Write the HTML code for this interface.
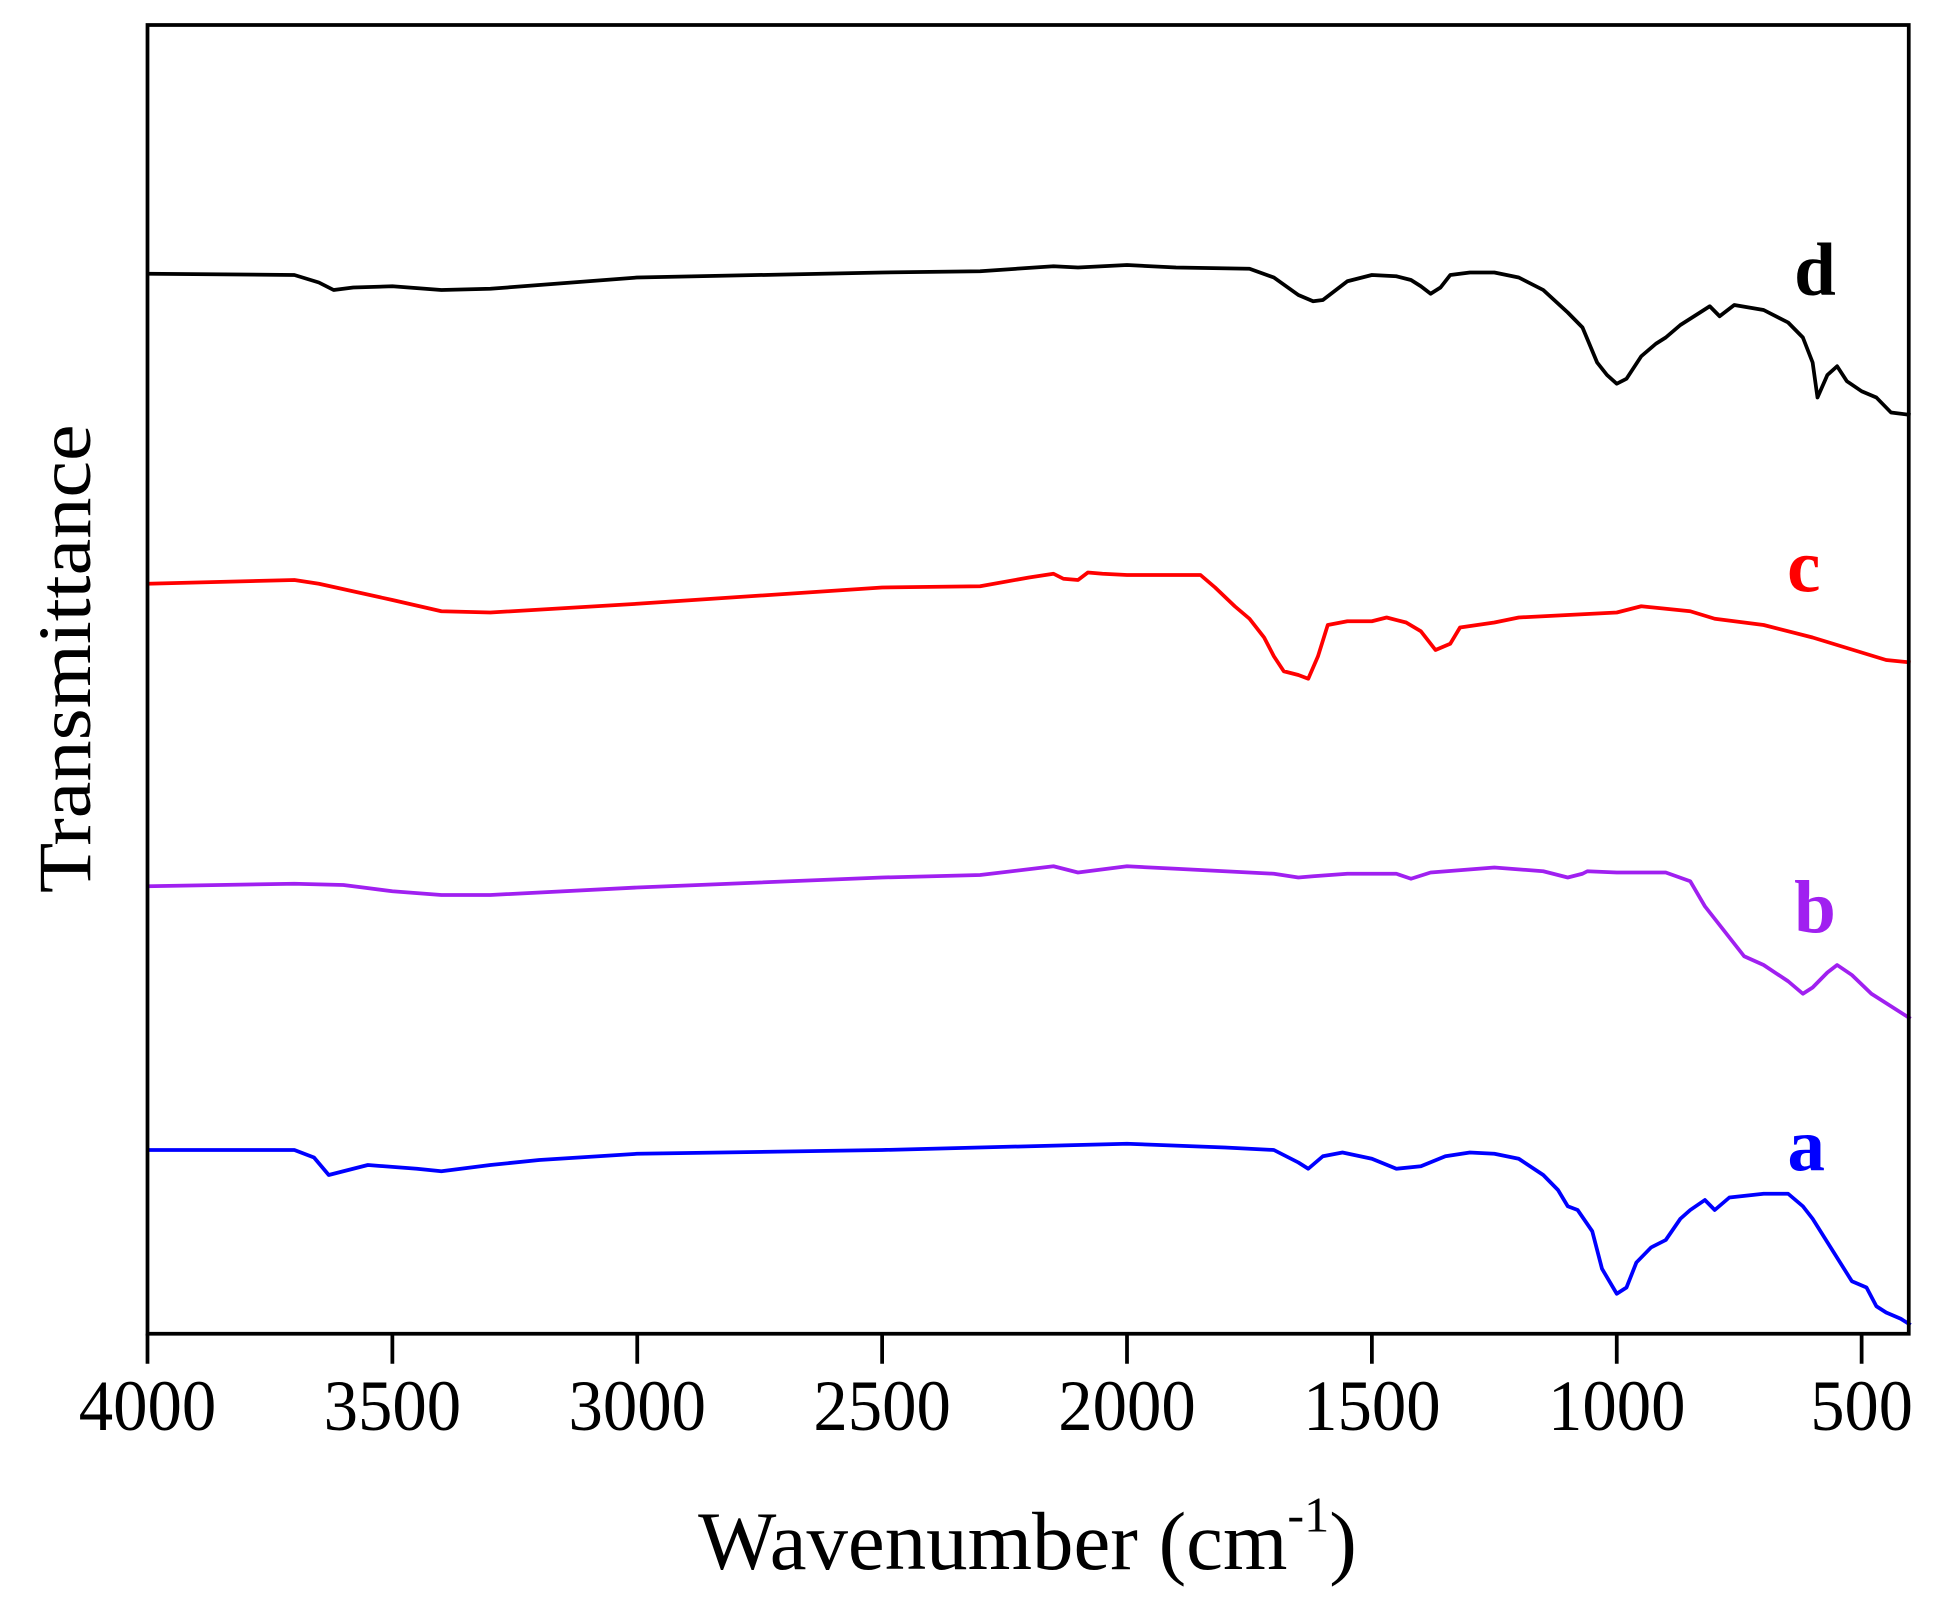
<!DOCTYPE html>
<html><head><meta charset="utf-8"><style>
html,body{margin:0;padding:0;background:#fff;}
svg{display:block;}
text{font-family:"Liberation Serif",serif;}
</style></head><body>
<svg id="chart" width="1960" height="1612" viewBox="0 0 1568 1289.6" xmlns="http://www.w3.org/2000/svg">
<rect width="1568" height="1289.6" fill="#fff"/>
<g id="series"></g>
<rect x="118" y="20" width="1409" height="1047" fill="none" stroke="#000" stroke-width="3"/>
<g id="axis"></g>
<text x="822" y="1255" text-anchor="middle" font-size="66" textLength="527" lengthAdjust="spacingAndGlyphs">Wavenumber (cm<tspan font-size="40" dy="-30">-1</tspan><tspan dy="30">)</tspan></text>
<text transform="translate(72,527) rotate(-90)" text-anchor="middle" font-size="60" textLength="375" lengthAdjust="spacingAndGlyphs">Transmittance</text>
</svg>
<script>
const ticks=[4000,3500,3000,2500,2000,1500,1000,500];
const seriesNames=['a','b','c','d'];
const seriesColors=['#0000ff','#a020f0','#ff0000','#000000'];
const wnD=[4000,3700,3650,3620,3580,3500,3400,3300,3200,3000,2500,2300,2150,2100,2000,1900,1750,1700,1650,1620,1600,1550,1500,1450,1420,1400,1380,1360,1340,1300,1250,1200,1150,1100,1070,1040,1020,1000,980,950,920,900,870,830,810,790,760,700,650,620,600,590,570,550,530,500,470,440,400];
const valD=[848,847,841,835,837,838,835,836,839,845,849,850,854,853,855,853,852,845,831,826,827,842,847,846,843,838,832,837,847,849,849,845,835,817,805,777,767,760,764,782,792,797,807,817,822,814,823,819,809,797,777,749,767,774,762,754,749,737,735];
const wnC=[4000,3700,3650,3500,3400,3300,3000,2500,2300,2200,2150,2130,2100,2080,2050,2000,1850,1820,1780,1750,1720,1700,1680,1650,1630,1610,1590,1550,1500,1470,1430,1400,1370,1340,1320,1250,1200,1100,1000,950,900,850,800,700,600,500,450,400];
const valC=[600,603,600,587,578,577,584,597,598,605,608,604,603,609,608,607,607,597,582,572,557,542,530,527,524,542,567,570,570,573,569,562,547,552,565,569,573,575,577,582,580,578,572,567,557,545,539,537];
const wnB=[4000,3700,3600,3500,3400,3300,3000,2500,2300,2150,2100,2000,1900,1700,1650,1620,1550,1450,1420,1380,1250,1150,1100,1070,1060,1000,900,850,820,780,740,700,650,620,600,570,550,520,480,400];
const valB=[358,360,359,354,351,351,357,365,367,374,369,374,372,368,365,366,368,368,364,369,373,370,365,368,370,369,369,362,342,322,302,295,282,272,277,289,295,287,272,252];
const wnA=[4000,3700,3660,3630,3600,3550,3450,3400,3300,3200,3000,2500,2000,1800,1700,1650,1630,1600,1560,1500,1450,1400,1350,1300,1250,1200,1150,1120,1100,1080,1050,1030,1000,980,960,930,900,870,850,820,800,770,700,650,620,600,560,520,490,470,450,420,400];
const valA=[147,147,141,127,130,135,132,130,135,139,144,147,152,149,147,137,132,142,145,140,132,134,142,145,144,140,127,115,102,99,82,52,32,37,57,69,75,92,99,107,99,109,112,112,102,92,67,42,37,22,17,12,7];
const labelPos=[[1445,918],[1452,728],[1443,455],[1452,218]];
const X0=118,PX=195.9,YB=1067;
function xs(w){return X0+(4000-w)/500*PX;}
function ys(v){return YB-v;}
const NS='http://www.w3.org/2000/svg';
const gS=document.getElementById('series'),gA=document.getElementById('axis');
const data=[[wnA,valA],[wnB,valB],[wnC,valC],[wnD,valD]];
data.forEach((s,i)=>{
  const p=document.createElementNS(NS,'path');
  p.setAttribute('d',s[0].map((w,j)=>(j?'L':'M')+xs(w).toFixed(1)+','+ys(s[1][j]).toFixed(1)).join(''));
  p.setAttribute('fill','none');p.setAttribute('stroke',seriesColors[i]);
  p.setAttribute('stroke-width','3');p.setAttribute('stroke-linejoin','round');
  
  
  gS.appendChild(p);
  const t=document.createElementNS(NS,'text');
  t.setAttribute('x',labelPos[i][0]);t.setAttribute('y',labelPos[i][1]+18);
  t.setAttribute('text-anchor','middle');t.setAttribute('font-size','60');
  t.setAttribute('font-weight','bold');t.setAttribute('fill',seriesColors[i]);
  t.textContent=seriesNames[i];
  
  
  gS.appendChild(t);
});
ticks.forEach(v=>{
  const l=document.createElementNS(NS,'line');
  l.setAttribute('x1',xs(v));l.setAttribute('x2',xs(v));
  l.setAttribute('y1',YB);l.setAttribute('y2',YB+24);
  l.setAttribute('stroke','#000');l.setAttribute('stroke-width','3');
  
  
  gA.appendChild(l);
  const t=document.createElementNS(NS,'text');
  t.setAttribute('x',xs(v));t.setAttribute('y',1144);
  t.setAttribute('text-anchor','middle');t.setAttribute('font-size','58');
  t.setAttribute('textLength','110');t.setAttribute('lengthAdjust','spacingAndGlyphs');
  if(v<1000)t.setAttribute('textLength','82');
  t.textContent=v;
  
  
  gA.appendChild(t);
});
</script>
</body></html>
